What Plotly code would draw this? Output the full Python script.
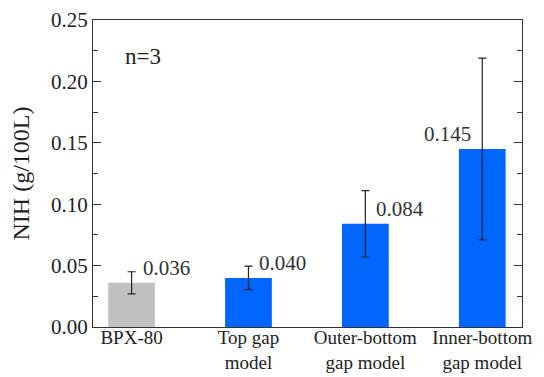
import plotly.graph_objects as go

categories = ["BPX-80", "Top gap<br>model", "Outer-bottom<br>gap model", "Inner-bottom<br>gap model"]
values = [0.036, 0.040, 0.084, 0.145]
errors = [0.009, 0.0095, 0.027, 0.074]
bar_colors = ["#C0C0C0", "#0066FF", "#0066FF", "#0066FF"]
value_labels = ["0.036", "0.040", "0.084", "0.145"]
label_side = ["right", "right", "right", "left"]

FONT = "Liberation Serif"

fig = go.Figure()
fig.add_trace(go.Bar(
    x=list(range(len(categories))), y=values,
    marker=dict(color=bar_colors, line=dict(width=0)),
    width=0.4,
    error_y=dict(type="data", array=errors, visible=True,
                 color="#222222", thickness=1.2, width=4),
    hoverinfo="skip",
))

for i, (v, lab, side) in enumerate(zip(values, value_labels, label_side)):
    fig.add_annotation(
        x=i, y=v, text=lab, showarrow=False,
        xanchor="left" if side == "right" else "right",
        yanchor="middle",
        xshift=9 if side == "right" else -9, yshift=15,
        font=dict(family=FONT, size=21, color="#333333"),
    )

fig.add_annotation(
    xref="paper", yref="paper", x=0.07, y=0.88, text="n=3", showarrow=False,
    xanchor="left", yanchor="middle",
    font=dict(family=FONT, size=23, color="#222222"),
)

fig.update_layout(
    width=544, height=377,
    margin=dict(l=93, r=22, t=20, b=50),
    paper_bgcolor="white", plot_bgcolor="white",
    showlegend=False,
    font=dict(family=FONT, size=21, color="#222222"),
    xaxis=dict(
        range=[-0.33, 3.34], automargin=False,
        tickmode="array", tickvals=list(range(len(categories))), ticktext=categories,
        showline=True, linecolor="#333333", linewidth=1, mirror=True,
        ticks="", showgrid=False, zeroline=False, ticklabelstandoff=-7,
        tickfont=dict(family=FONT, size=19, color="#222222"),
    ),
    yaxis=dict(
        range=[0, 0.25], dtick=0.05, tickformat=".2f", automargin=False,
        showline=True, linecolor="#333333", linewidth=1, mirror="ticks",
        ticks="inside", ticklen=8, tickcolor="#333333",
        minor=dict(ticks="inside", ticklen=5, dtick=0.025, tickcolor="#333333"),
        showgrid=False, zeroline=False,
        title=dict(text="NIH (g/100L)", font=dict(family=FONT, size=24, color="#222222"), standoff=14),
        tickfont=dict(family=FONT, size=21, color="#222222"),
    ),
)

fig.write_html("out.html", config={"displayModeBar": False},
               post_script="document.body.style.margin='0';document.body.style.overflow='hidden';")
